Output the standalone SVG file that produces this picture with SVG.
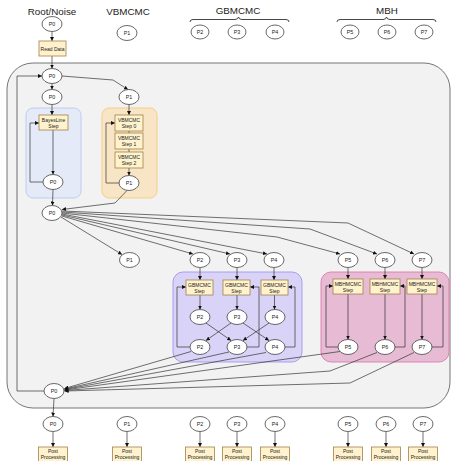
<svg xmlns="http://www.w3.org/2000/svg" width="452" height="461" viewBox="0 0 452 461">
  <style>
    text { font-family: "Liberation Sans", Arial, sans-serif; fill: #222; text-anchor: middle; }
    .hd { font-size: 9.8px; }
    .nl { font-size: 5.4px; }
    .bl { font-size: 5px; }
    .nd ellipse { fill: #ffffff; stroke: #444; stroke-width: 0.8; }
    .bx rect { fill: #fff2cc; stroke: #a0824a; stroke-width: 0.8; }
    .cn path { fill: none; stroke: #333; stroke-width: 0.7; }
    .cn .ar { marker-end: url(#arr); }
    .brace { fill: none; stroke: #333; stroke-width: 0.9; }
  </style>
  <defs>
    <marker id="arr" viewBox="0 0 10 10" refX="10" refY="5" markerWidth="4" markerHeight="4" markerUnits="userSpaceOnUse" orient="auto">
      <path d="M0,0 L10,5 L0,10 z" fill="#111"/>
    </marker>
  </defs>

  <!-- column headers -->
  <text class="hd" x="52" y="15">Root/Noise</text>
  <text class="hd" x="128" y="15">VBMCMC</text>
  <text class="hd" x="238" y="14">GBMCMC</text>
  <text class="hd" x="387" y="14">MBH</text>
  <path class="brace" d="M190,22 Q190,19.5 193,19.5 L235,19.5 Q238,19.5 238.5,17 Q239,19.5 242,19.5 L286,19.5 Q289,19.5 289,22"/>
  <path class="brace" d="M337,22 Q337,19.5 340,19.5 L383,19.5 Q386,19.5 386.5,17 Q387,19.5 390,19.5 L433,19.5 Q436,19.5 436,22"/>

  <!-- containers -->
  <rect id="main-loop" x="7" y="63" width="443" height="345" rx="26" fill="#f2f2f2" stroke="#666" stroke-width="0.9"/>
  <rect id="bayesline-group" x="26" y="108" width="55" height="90" rx="7" fill="#e4eaf8" stroke="#b9c8ee" stroke-width="0.9"/>
  <rect id="vbmcmc-group" x="102" y="108" width="55" height="90" rx="7" fill="#f8e5c6" stroke="#f6c97c" stroke-width="0.9"/>
  <rect id="gbmcmc-group" x="173" y="272" width="129" height="90" rx="10" fill="#d8d3f7" stroke="#a495ef" stroke-width="0.9"/>
  <rect id="mbh-group" x="321" y="272" width="128" height="90" rx="10" fill="#e6bbd3" stroke="#e07aae" stroke-width="0.9"/>

  <!-- connectors -->
  <g id="connectors" class="cn">
    <path class="ar" d="M52,31.5 L52,41"/>
    <path class="ar" d="M52,56 L52,68.5"/>
    <path class="ar" d="M52,83.5 L52,89.5"/>
    <path class="ar" d="M62,76 L113,80 L128,89.6"/>
    <path class="ar" d="M52,104.5 L52,115"/>
    <path class="ar" d="M129,104.5 L129,115"/>
    <path class="ar" d="M53,130 L53,174.5"/>
    <path class="ar" d="M43,182 L30,182 L30,123 L39,123"/>
    <path class="ar" d="M53,189.5 L52.5,205.5"/>
    <path d="M129,131 L129,133"/>
    <path d="M129,149 L129,152"/>
    <path class="ar" d="M129,168 L129,175.5"/>
    <path class="ar" d="M119,183 L106,183 L106,123 L115,123"/>
    <path class="ar" d="M127,190.5 L115,203 L62,209.5"/>

    <!-- fan-out to the chains -->
    <path class="ar" d="M61,217 L122,254.5"/>
    <path class="ar" d="M62,216 L193,254"/>
    <path class="ar" d="M62,215 L230,254"/>
    <path class="ar" d="M62,214 L267,254"/>
    <path class="ar" d="M62,213 L277,237 L340,254"/>
    <path class="ar" d="M62,212 L310,229 L377,254"/>
    <path class="ar" d="M62,211 L348,223 L414,254"/>

    <!-- GBMCMC chains -->
    <path class="ar" d="M200,267.5 L200,280"/>
    <path class="ar" d="M237,267.5 L237,280"/>
    <path class="ar" d="M274,267.5 L274,280"/>
    <path class="ar" d="M200,295 L200,309.5"/>
    <path class="ar" d="M237,295 L237,309.5"/>
    <path class="ar" d="M274.5,295 L274.5,309.5"/>
    <path class="ar" d="M206,323 L231,340.5"/>
    <path class="ar" d="M231,323 L206,340.5"/>
    <path class="ar" d="M243,323 L269,340.5"/>
    <path class="ar" d="M269,323 L243,340.5"/>
    <path class="ar" d="M190,347 L177,347 L177,287 L186,287"/>
    <path class="ar" d="M247,347 L259,347 L259,287 L250,287"/>
    <path class="ar" d="M285,347 L295,347 L295,287 L288,287"/>

    <!-- MBH chains -->
    <path class="ar" d="M348,267.5 L348,279"/>
    <path class="ar" d="M385,267.5 L385,279"/>
    <path class="ar" d="M422,267.5 L422,279"/>
    <path class="ar" d="M348,294 L348,339.5"/>
    <path class="ar" d="M385,294 L385,339.5"/>
    <path class="ar" d="M422,294 L422,339.5"/>
    <path class="ar" d="M338,347 L326,347 L326,286 L333,286"/>
    <path class="ar" d="M395,347 L405,347 L405,286 L400,286"/>
    <path class="ar" d="M432,347 L443,347 L443,286 L437,286"/>

    <!-- fan-in to root -->
    <path class="ar" d="M191,351.5 L64.5,388.5"/>
    <path class="ar" d="M229,352 L64.5,389"/>
    <path class="ar" d="M266,352.5 L64.5,389.5"/>
    <path class="ar" d="M340,351.5 L64.5,390"/>
    <path class="ar" d="M377,352.5 L330,371 L64.5,390.5"/>
    <path class="ar" d="M414,352.5 L350,383 L64.5,391"/>

    <!-- outer loop back to the top -->
    <path class="ar" d="M44,391 L17,391 L17,76 L42,76"/>

    <!-- post processing -->
    <path class="ar" d="M54,398.5 L53,416.5"/>
    <path class="ar" d="M53,431.5 L53,447"/>
    <path class="ar" d="M127,431.5 L127,447"/>
    <path class="ar" d="M200,431.5 L200,447"/>
    <path class="ar" d="M237,431.5 L237,447"/>
    <path class="ar" d="M275,431.5 L275,447"/>
    <path class="ar" d="M348,431.5 L348,447"/>
    <path class="ar" d="M386,431.5 L386,447"/>
    <path class="ar" d="M423,431.5 L423,447"/>
  </g>

  <!-- header nodes -->
  <g id="top-p0" class="nd"><ellipse cx="52" cy="24" rx="10" ry="7.5"/><text class="nl" x="52" y="26">P0</text></g>
  <g id="top-p1" class="nd"><ellipse cx="127" cy="33" rx="10" ry="7.5"/><text class="nl" x="127" y="35">P1</text></g>
  <g id="top-p2" class="nd"><ellipse cx="200" cy="32" rx="9" ry="7"/><text class="nl" x="200" y="34">P2</text></g>
  <g id="top-p3" class="nd"><ellipse cx="237" cy="32" rx="9" ry="7"/><text class="nl" x="237" y="34">P3</text></g>
  <g id="top-p4" class="nd"><ellipse cx="275" cy="32" rx="9" ry="7"/><text class="nl" x="275" y="34">P4</text></g>
  <g id="top-p5" class="nd"><ellipse cx="350" cy="32" rx="9" ry="7"/><text class="nl" x="350" y="34">P5</text></g>
  <g id="top-p6" class="nd"><ellipse cx="387" cy="32" rx="9" ry="7"/><text class="nl" x="387" y="34">P6</text></g>
  <g id="top-p7" class="nd"><ellipse cx="424" cy="32" rx="9" ry="7"/><text class="nl" x="424" y="34">P7</text></g>
  <g id="read-data" class="bx"><rect x="39" y="41" width="27" height="15"/><text class="bl" x="52.5" y="50.5">Read Data</text></g>

  <!-- root / noise column -->
  <g id="p0-a" class="nd"><ellipse cx="52" cy="76" rx="10" ry="7.5"/><text class="nl" x="52" y="78">P0</text></g>
  <g id="p0-b" class="nd"><ellipse cx="52" cy="97" rx="10" ry="7.5"/><text class="nl" x="52" y="99">P0</text></g>
  <g id="bayesline-step" class="bx"><rect x="39" y="115" width="29" height="15"/><text class="bl" x="53.5" y="121.5">BayesLine</text><text class="bl" x="53.5" y="127.5">Step</text></g>
  <g id="p0-c" class="nd"><ellipse cx="53" cy="182" rx="10" ry="7.5"/><text class="nl" x="53" y="184">P0</text></g>
  <g id="p0-d" class="nd"><ellipse cx="52" cy="213" rx="10" ry="7.5"/><text class="nl" x="52" y="215">P0</text></g>

  <!-- VBMCMC column -->
  <g id="p1-a" class="nd"><ellipse cx="129" cy="97" rx="10" ry="7.5"/><text class="nl" x="129" y="99">P1</text></g>
  <g id="vb-step0" class="bx"><rect x="115" y="115" width="28" height="16"/><text class="bl" x="129" y="122">VBMCMC</text><text class="bl" x="129" y="128">Step 0</text></g>
  <g id="vb-step1" class="bx"><rect x="115" y="133" width="28" height="16"/><text class="bl" x="129" y="140">VBMCMC</text><text class="bl" x="129" y="146">Step 1</text></g>
  <g id="vb-step2" class="bx"><rect x="115" y="152" width="28" height="16"/><text class="bl" x="129" y="159">VBMCMC</text><text class="bl" x="129" y="165">Step 2</text></g>
  <g id="p1-b" class="nd"><ellipse cx="129" cy="183" rx="10" ry="7.5"/><text class="nl" x="129" y="185">P1</text></g>

  <!-- fan-out row -->
  <g id="p1-c" class="nd"><ellipse cx="129.5" cy="260" rx="10" ry="7.5"/><text class="nl" x="129.5" y="262">P1</text></g>
  <g id="p2-a" class="nd"><ellipse cx="200" cy="260" rx="10" ry="7.5"/><text class="nl" x="200" y="262">P2</text></g>
  <g id="p3-a" class="nd"><ellipse cx="237" cy="260" rx="10" ry="7.5"/><text class="nl" x="237" y="262">P3</text></g>
  <g id="p4-a" class="nd"><ellipse cx="274" cy="260" rx="10" ry="7.5"/><text class="nl" x="274" y="262">P4</text></g>
  <g id="p5-a" class="nd"><ellipse cx="348" cy="260" rx="10" ry="7.5"/><text class="nl" x="348" y="262">P5</text></g>
  <g id="p6-a" class="nd"><ellipse cx="385" cy="260" rx="10" ry="7.5"/><text class="nl" x="385" y="262">P6</text></g>
  <g id="p7-a" class="nd"><ellipse cx="422" cy="260" rx="10" ry="7.5"/><text class="nl" x="422" y="262">P7</text></g>

  <!-- GBMCMC group -->
  <g id="gb-step-2" class="bx"><rect x="186" y="280" width="27" height="15"/><text class="bl" x="199.5" y="286.5">GBMCMC</text><text class="bl" x="199.5" y="292.5">Step</text></g>
  <g id="gb-step-3" class="bx"><rect x="223" y="280" width="27" height="15"/><text class="bl" x="236.5" y="286.5">GBMCMC</text><text class="bl" x="236.5" y="292.5">Step</text></g>
  <g id="gb-step-4" class="bx"><rect x="261" y="280" width="27" height="15"/><text class="bl" x="274.5" y="286.5">GBMCMC</text><text class="bl" x="274.5" y="292.5">Step</text></g>
  <g id="p2-b" class="nd"><ellipse cx="200" cy="317" rx="10" ry="7.5"/><text class="nl" x="200" y="319">P2</text></g>
  <g id="p3-b" class="nd"><ellipse cx="237" cy="317" rx="10" ry="7.5"/><text class="nl" x="237" y="319">P3</text></g>
  <g id="p4-b" class="nd"><ellipse cx="275" cy="317" rx="10" ry="7.5"/><text class="nl" x="275" y="319">P4</text></g>
  <g id="p2-c" class="nd"><ellipse cx="200" cy="347" rx="10" ry="7.5"/><text class="nl" x="200" y="349">P2</text></g>
  <g id="p3-c" class="nd"><ellipse cx="237" cy="347" rx="10" ry="7.5"/><text class="nl" x="237" y="349">P3</text></g>
  <g id="p4-c" class="nd"><ellipse cx="275" cy="347" rx="10" ry="7.5"/><text class="nl" x="275" y="349">P4</text></g>

  <!-- MBH group -->
  <g id="mbh-step-5" class="bx"><rect x="333" y="279" width="30" height="15"/><text class="bl" x="348" y="285.5">MBHMCMC</text><text class="bl" x="348" y="291.5">Step</text></g>
  <g id="mbh-step-6" class="bx"><rect x="370" y="279" width="30" height="15"/><text class="bl" x="385" y="285.5">MBHMCMC</text><text class="bl" x="385" y="291.5">Step</text></g>
  <g id="mbh-step-7" class="bx"><rect x="407" y="279" width="30" height="15"/><text class="bl" x="422" y="285.5">MBHMCMC</text><text class="bl" x="422" y="291.5">Step</text></g>
  <g id="p5-b" class="nd"><ellipse cx="348" cy="347" rx="10" ry="7.5"/><text class="nl" x="348" y="349">P5</text></g>
  <g id="p6-b" class="nd"><ellipse cx="385" cy="347" rx="10" ry="7.5"/><text class="nl" x="385" y="349">P6</text></g>
  <g id="p7-b" class="nd"><ellipse cx="422" cy="347" rx="10" ry="7.5"/><text class="nl" x="422" y="349">P7</text></g>

  <!-- root after sync -->
  <g id="p0-e" class="nd"><ellipse cx="54" cy="391" rx="10" ry="7.5"/><text class="nl" x="54" y="393">P0</text></g>

  <!-- output nodes -->
  <g id="out-p0" class="nd"><ellipse cx="53" cy="424" rx="10" ry="7.5"/><text class="nl" x="53" y="426">P0</text></g>
  <g id="out-p1" class="nd"><ellipse cx="127" cy="424" rx="10" ry="7.5"/><text class="nl" x="127" y="426">P1</text></g>
  <g id="out-p2" class="nd"><ellipse cx="200" cy="424" rx="10" ry="7.5"/><text class="nl" x="200" y="426">P2</text></g>
  <g id="out-p3" class="nd"><ellipse cx="237" cy="424" rx="10" ry="7.5"/><text class="nl" x="237" y="426">P3</text></g>
  <g id="out-p4" class="nd"><ellipse cx="275" cy="424" rx="10" ry="7.5"/><text class="nl" x="275" y="426">P4</text></g>
  <g id="out-p5" class="nd"><ellipse cx="348" cy="424" rx="10" ry="7.5"/><text class="nl" x="348" y="426">P5</text></g>
  <g id="out-p6" class="nd"><ellipse cx="386" cy="424" rx="10" ry="7.5"/><text class="nl" x="386" y="426">P6</text></g>
  <g id="out-p7" class="nd"><ellipse cx="423" cy="424" rx="10" ry="7.5"/><text class="nl" x="423" y="426">P7</text></g>

  <g id="post-p0" class="bx"><rect x="38.5" y="447" width="29" height="17"/><text class="bl" x="53" y="453">Post</text><text class="bl" x="53" y="459">Processing</text></g>
  <g id="post-p1" class="bx"><rect x="112.5" y="447" width="29" height="17"/><text class="bl" x="127" y="453">Post</text><text class="bl" x="127" y="459">Processing</text></g>
  <g id="post-p2" class="bx"><rect x="185.5" y="447" width="29" height="17"/><text class="bl" x="200" y="453">Post</text><text class="bl" x="200" y="459">Processing</text></g>
  <g id="post-p3" class="bx"><rect x="222.5" y="447" width="29" height="17"/><text class="bl" x="237" y="453">Post</text><text class="bl" x="237" y="459">Processing</text></g>
  <g id="post-p4" class="bx"><rect x="260.5" y="447" width="29" height="17"/><text class="bl" x="275" y="453">Post</text><text class="bl" x="275" y="459">Processing</text></g>
  <g id="post-p5" class="bx"><rect x="333.5" y="447" width="29" height="17"/><text class="bl" x="348" y="453">Post</text><text class="bl" x="348" y="459">Processing</text></g>
  <g id="post-p6" class="bx"><rect x="371.5" y="447" width="29" height="17"/><text class="bl" x="386" y="453">Post</text><text class="bl" x="386" y="459">Processing</text></g>
  <g id="post-p7" class="bx"><rect x="408.5" y="447" width="29" height="17"/><text class="bl" x="423" y="453">Post</text><text class="bl" x="423" y="459">Processing</text></g>
</svg>
